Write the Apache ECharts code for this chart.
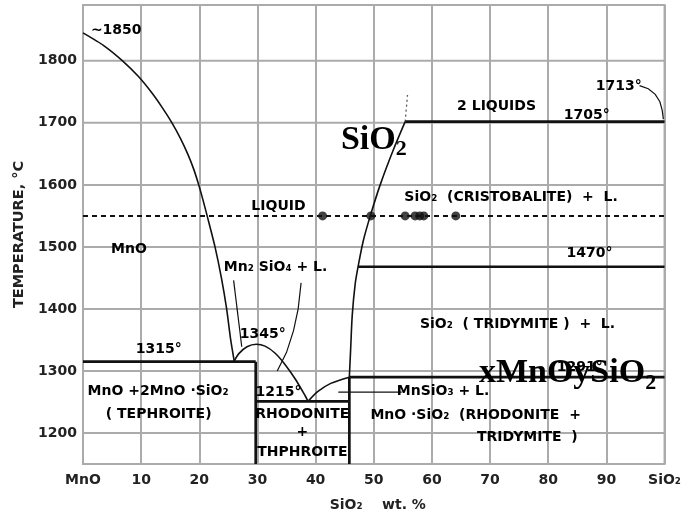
<!DOCTYPE html>
<html><head><meta charset="utf-8">
<script src="https://cdn.jsdelivr.net/npm/echarts@6/dist/echarts.min.js"></script>
<style>html,body{margin:0;padding:0;background:#fff}#c{width:684px;height:517px}</style>
</head><body><div id="c"></div>
<script>
// ---- axis ticks ----
const xTicks = [0,10,20,30,40,50,60,70,80,90,100];
const xTickLabels = ['MnO','10','20','30','40','50','60','70','80','90','SiO₂'];
const yTicks = [1200,1300,1400,1500,1600,1700,1800];

// ---- phase boundaries (x = wt.% SiO2, y = °C) ----
const liquidusMnO = [[0,1845],[3.5,1825],[6.8,1800],[9.5,1775],[11.7,1750],[13.6,1725],[15.3,1700],[16.75,1675],[18.0,1650],[19.05,1625],[19.9,1600],[20.65,1575],[21.35,1550],[22.7,1500],[23.8,1450],[24.7,1400],[25.4,1350],[26.0,1316]];
const liquidusTephroite = [[26.0,1316],[26.8,1328],[28.2,1339],[29.8,1343],[31.3,1340],[33,1329],[34.7,1311],[36.5,1287],[38.2,1260],[38.7,1251]];
const liquidusRhodonite = [[38.7,1251],[40.4,1267],[42.6,1280],[45.8,1290]];
const liquidusSilica = [[45.8,1290],[46.0,1330],[46.3,1390],[46.8,1440],[47.3,1468],[48.2,1510],[49.4,1550],[51.1,1600],[53.3,1655],[55.4,1702]];
const liquidusSilicaDashed = [[55.4,1702],[55.8,1745]];
const isoTephroite = [[0,1315],[29.7,1315]];
const isoRhodonite = [[29.7,1251],[45.8,1251]];
const iso1291 = [[45.8,1290],[100,1290]];
const iso1470 = [[47.3,1468],[100,1468]];
const iso1705 = [[55.4,1702],[100,1702]];
const vertTephroite = [[29.7,1150],[29.7,1315]];
const vertRhodonite = [[45.8,1150],[45.8,1290]];
const line1550 = [[0,1550],[100,1550]];
const dots1550X = [41.2,49.5,55.4,57.1,57.9,58.6,64.1];
const dotsT = 1550;

// ---- arrows ----
const arrowMn2SiO4Left = [[25.9,1446],[27.3,1339]];
const arrowMn2SiO4Right = [[37.5,1442],[37.0,1400],[36.2,1365],[35.0,1330],[33.4,1300]];
const arrow1713 = [[95.7,1760],[97.2,1755],[98.4,1746],[99.2,1734],[99.6,1720],[99.8,1706]];
const arrowMnSiO3 = [[54.8,1266],[43.9,1266]];

// ---- labels [x, T, text] ----
const labelX = [5.8, 33.7, 8.0, 33.2, 31.0, 13.1, 33.7, 13.0, 13.1, 37.8, 37.8, 37.8, 62.0, 67.6, 76.5, 74.8, 87.2, 73.7, 71.2, 86.7, 92.2, 85.5];
const labelT = [1848, 1565, 1496, 1467, 1358, 1334, 1264, 1267, 1230, 1230, 1200, 1168, 1266, 1227, 1192, 1374, 1488, 1579, 1726, 1712, 1758, 1305];
const labelText = ['~1850','LIQUID','MnO','Mn₂ SiO₄ + L.','1345°','1315°','1215°','MnO +2MnO ·SiO₂','( TEPHROITE)','RHODONITE','+','THPHROITE','MnSiO₃ + L.','MnO ·SiO₂  (RHODONITE  +','TRIDYMITE  )','SiO₂  ( TRIDYMITE )  +  L.','1470°','SiO₂  (CRISTOBALITE)  +  L.','2 LIQUIDS','1705°','1713°','1291°'];

// ---- large overlay formulas ----
const bigX = [50.1, 83.4];
const bigT = [1672, 1296];
const bigMain = ['SiO', 'xMnOySiO'];
const bigSub = ['2', '2'];

const INK = '#111';
const GRID = '#ababab';
const FONT = 'DejaVu Sans';

function ln(data, w, extra) {
  return Object.assign({
    type: 'line', data: data, symbol: 'none', showSymbol: false, silent: true,
    lineStyle: { color: INK, width: w }, z: 3, animation: false
  }, extra || {});
}
function arrow(coords) {
  return {
    type: 'lines', coordinateSystem: 'cartesian2d', polyline: true, silent: true,
    symbol: ['none', 'arrow'], symbolSize: 7, z: 4, animation: false,
    lineStyle: { color: INK, width: 1.2, opacity: 1, curveness: 0 },
    data: [{ coords: coords }]
  };
}

const series = [];
// horizontal grid lines at y ticks
yTicks.forEach(t => series.push({
  type: 'line', data: [[0, t], [100, t]], symbol: 'none', silent: true, z: 1, animation: false,
  lineStyle: { color: GRID, width: 2 }
}));
series.push(ln(liquidusMnO, 1.6, { smooth: 0.2 }));
series.push(ln(liquidusTephroite, 1.6, { smooth: 0.3 }));
series.push(ln(liquidusRhodonite, 1.6, { smooth: 0.3 }));
series.push(ln(liquidusSilica, 1.6, { smooth: 0.3 }));
series.push(ln(liquidusSilicaDashed, 1.3, { lineStyle: { color: '#555', width: 1.3, type: [2, 3] } }));
[isoTephroite, isoRhodonite, iso1291, iso1470, iso1705, vertTephroite, vertRhodonite].forEach(d => series.push(ln(d, 2.7)));
series.push(ln(line1550, 2, { lineStyle: { color: INK, width: 2, type: [5, 4] } }));
series.push({
  type: 'scatter', data: dots1550X.map(x => [x, dotsT]), symbolSize: 9, silent: true, z: 5, animation: false,
  itemStyle: { color: INK }
});
[arrowMn2SiO4Left, arrowMn2SiO4Right, arrow1713, arrowMnSiO3].forEach(a => series.push(arrow(a)));
series.push({
  type: 'scatter', symbolSize: 1, silent: true, z: 6, animation: false,
  itemStyle: { color: 'rgba(0,0,0,0)' },
  label: { show: true, position: [0, 0], align: 'center', verticalAlign: 'middle',
    fontFamily: FONT, fontWeight: 'bold', fontSize: 14, color: '#000', opacity: 1,
    formatter: p => p.data.name },
  data: labelX.map((x, i) => ({ value: [x, labelT[i]], name: labelText[i] }))
});
series.push({
  type: 'scatter', symbolSize: 1, silent: true, z: 8, animation: false,
  itemStyle: { color: 'rgba(0,0,0,0)' },
  label: { show: true, position: [0, 0], align: 'center', verticalAlign: 'middle',
    color: '#000', opacity: 1,
    formatter: p => '{a|' + p.data.main + '}{b|' + p.data.sub + '}',
    rich: {
      a: { fontFamily: 'Liberation Serif', fontWeight: 'bold', fontSize: 34, lineHeight: 42, color: '#000', opacity: 1 },
      b: { fontFamily: 'Liberation Serif', fontWeight: 'bold', fontSize: 22, lineHeight: 22, verticalAlign: 'bottom', color: '#000', opacity: 1 }
    } },
  data: bigX.map((x, i) => ({ value: [x, bigT[i]], main: bigMain[i], sub: bigSub[i] }))
});

const chart = echarts.init(document.getElementById('c'), null, { renderer: 'canvas' });
chart.setOption({
  backgroundColor: '#fff',
  animation: false,
  textStyle: { fontFamily: FONT },
  grid: { left: 83, right: 14, top: 5, bottom: 50, show: true, borderColor: GRID, borderWidth: 2, backgroundColor: '#fff' },
  xAxis: {
    type: 'value', min: 0, max: 100, interval: 10,
    axisLine: { show: false }, axisTick: { show: false },
    splitLine: { show: true, lineStyle: { color: GRID, width: 2 } },
    axisLabel: { margin: 9, fontFamily: FONT, fontWeight: 'bold', fontSize: 14, color: '#222',
      showMaxLabel: true, showMinLabel: true,
      formatter: v => { const i = xTicks.indexOf(v); return i >= 0 ? xTickLabels[i] : ''; } },
    name: 'SiO₂    wt. %', nameLocation: 'middle', nameGap: 34,
    nameTextStyle: { fontFamily: FONT, fontWeight: 'bold', fontSize: 14, color: '#222', padding: [0, 0, 0, 8] }
  },
  yAxis: {
    type: 'value', min: 1150, max: 1890, interval: 50,
    axisLine: { show: false }, axisTick: { show: false }, splitLine: { show: false },
    axisLabel: { margin: 6, fontFamily: FONT, fontWeight: 'bold', fontSize: 14, color: '#222',
      showMaxLabel: false, showMinLabel: false,
      formatter: v => yTicks.indexOf(v) >= 0 ? String(v) : '' },
    name: 'TEMPERATURE, °C', nameLocation: 'middle', nameGap: 55, nameRotate: 90,
    nameTextStyle: { fontFamily: FONT, fontWeight: 'bold', fontSize: 14.5, color: '#222' }
  },
  series: series
});
</script>
</body></html>
